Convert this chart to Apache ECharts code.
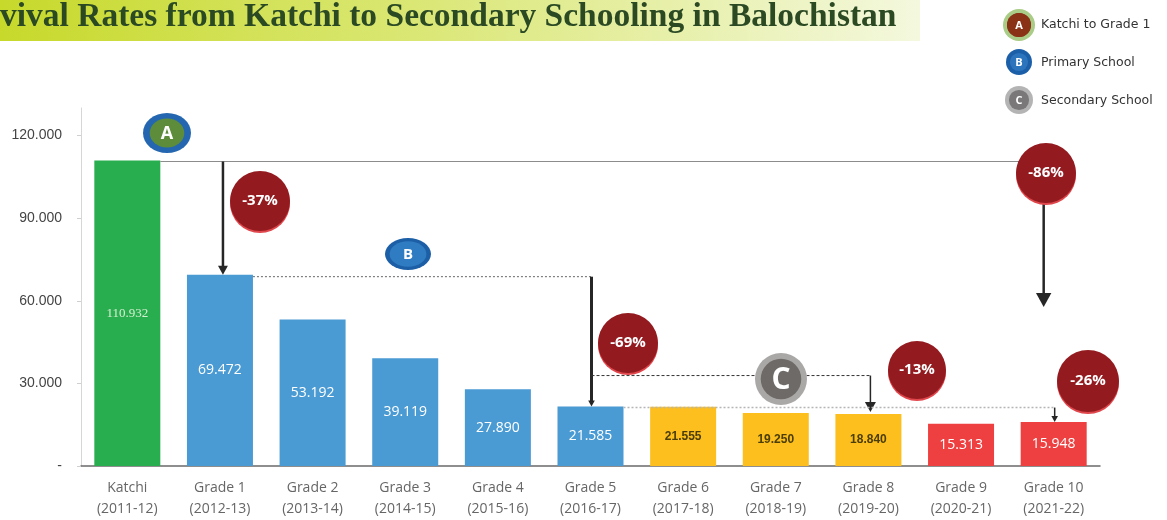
<!DOCTYPE html>
<html>
<head>
<meta charset="utf-8">
<script src="https://cdn.jsdelivr.net/npm/echarts@6/dist/echarts.min.js"></script>
<style>
  html, body { margin: 0; padding: 0; background: #fff; }
  #chart { width: 1167px; height: 520px; }
</style>
</head>
<body>
<div id="chart"></div>
<script>
// data
const grades = ['Katchi', 'Grade 1', 'Grade 2', 'Grade 3', 'Grade 4', 'Grade 5',
  'Grade 6', 'Grade 7', 'Grade 8', 'Grade 9', 'Grade 10']
const years = ['(2011-12)', '(2012-13)', '(2013-14)', '(2014-15)', '(2015-16)', '(2016-17)',
  '(2017-18)', '(2018-19)', '(2019-20)', '(2020-21)', '(2021-22)']
const enrolment = [110932, 69472, 53192, 39119, 27890, 21585, 21555, 19250, 18840, 15313, 15948]
const stage = ['katchi', 'primary', 'primary', 'primary', 'primary', 'primary',
  'middle', 'middle', 'middle', 'high', 'high']
const yTicks = [0, 30000, 60000, 90000, 120000]
const dropLabels = ['-37%', '-69%', '-13%', '-26%', '-86%']
const legendItems = ['Katchi to Grade 1', 'Primary School', 'Secondary School']

const stageColor = {
  katchi: '#29ae4f',
  primary: '#4a9ad3',
  middle: '#fcbf1e',
  high: '#ee4040'
}
const stageLabel = {
  katchi: { color: '#d6efd2', fontSize: 13, fontFamily: 'Liberation Serif' },
  primary: { color: '#fff', fontSize: 14, fontFamily: 'Open Sans' },
  middle: { color: '#4a3d05', fontSize: 12, fontWeight: 'bold', fontFamily: 'Liberation Sans' },
  high: { color: '#fff', fontSize: 14, fontFamily: 'Open Sans' }
}

const fmt = v => v === 0 ? '-' : String(v).replace(/\B(?=(\d{3})+(?!\d))/g, '.')

const chart = echarts.init(document.getElementById('chart'))

chart.setOption({
  animation: false,
  backgroundColor: '#fff',
  grid: { left: 81, right: 67, top: 108, bottom: 52 },
  xAxis: {
    type: 'category',
    data: grades.map((g, i) => g + '\n' + years[i]),
    axisLine: { lineStyle: { color: '#6a6a6a', width: 1.5 } },
    axisTick: { length: 5, lineStyle: { color: '#6a6a6a' } },
    axisLabel: { color: '#666', fontSize: 14, lineHeight: 21, margin: 12, fontFamily: 'Open Sans' }
  },
  yAxis: {
    type: 'value',
    min: 0,
    max: 130000,
    interval: 30000,
    splitLine: { show: false },
    axisLine: { show: true, lineStyle: { color: '#d6d6d6' } },
    axisTick: { show: true, length: 4, lineStyle: { color: '#d0d0d0' } },
    axisLabel: {
      color: '#444',
      fontSize: 14,
      margin: 19,
      showMaxLabel: false,
      formatter: v => yTicks.includes(v) ? fmt(v) : ''
    }
  },
  series: [{
    type: 'bar',
    barWidth: 66,
    data: enrolment.map((v, i) => ({
      value: v,
      itemStyle: { color: stageColor[stage[i]] },
      label: stageLabel[stage[i]]
    })),
    label: {
      show: true,
      position: 'inside',
      formatter: p => fmt(p.value)
    }
  }]
})

// annotation lines hang off the bar tops
const px = (i, v) => chart.convertToPixel({ gridIndex: 0 }, [i, v])
const half = 33
const k0 = px(0, enrolment[0])
const g1 = px(1, enrolment[1])
const g5 = px(5, enrolment[5])
const g8 = px(8, enrolment[8])
const g10 = px(10, enrolment[10])

function hline(x1, x2, y, color, dash, w) {
  return {
    type: 'line', z: 50,
    shape: { x1: x1, y1: y, x2: x2, y2: y },
    style: { stroke: color, lineWidth: w || 1, lineDash: dash || null }
  }
}
function arrow(x, y1, y2, w, head) {
  return [
    { type: 'line', z: 50, shape: { x1: x, y1: y1, x2: x, y2: y2 - head + 1 }, style: { stroke: '#262626', lineWidth: w } },
    { type: 'polygon', z: 50, shape: { points: [[x - head * 0.55, y2 - head], [x + head * 0.55, y2 - head], [x, y2]] }, style: { fill: '#262626' } }
  ]
}
function bubble(cx, cy, r, text) {
  return [
    { type: 'circle', z: 60, shape: { cx: cx, cy: cy + 2, r: r }, style: { fill: '#e0474c' } },
    { type: 'circle', z: 61, shape: { cx: cx, cy: cy, r: r }, style: { fill: '#931b20' } },
    { type: 'text', z: 62, style: { text: text, x: cx, y: cy, align: 'center', verticalAlign: 'middle', fill: '#fff', font: 'bold 15px "Open Sans"' } }
  ]
}
function badge(cx, cy, rx, ry, outer, inner, k, letter, size) {
  return [
    { type: 'circle', z: 60, x: cx, y: cy, scaleY: ry / rx, shape: { cx: 0, cy: 0, r: rx }, style: { fill: outer } },
    { type: 'circle', z: 61, x: cx, y: cy, scaleY: ry / rx, shape: { cx: 0, cy: 0, r: rx * k }, style: { fill: inner } },
    { type: 'text', z: 62, style: { text: letter, x: cx, y: cy + 1, align: 'center', verticalAlign: 'middle', fill: '#fff', font: 'bold ' + size + 'px "Open Sans"' } }
  ]
}

const yC = g5[1] - 31
const graphics = [
  // title band
  {
    type: 'rect', z: 1, shape: { x: 0, y: 0, width: 920, height: 41 },
    style: {
      fill: new echarts.graphic.LinearGradient(0, 0, 1, 0, [
        { offset: 0, color: '#c7d92b' },
        { offset: 0.45, color: '#dae774' },
        { offset: 1, color: '#f4f8de' }
      ])
    }
  },
  {
    type: 'text', z: 2,
    style: { text: 'vival Rates from Katchi to Secondary Schooling in Balochistan', x: 0, y: 17, verticalAlign: 'middle', fill: '#2b4a24', font: 'bold 33.5px "Liberation Serif"' }
  },
  // Katchi -> Grade 10 line and A drop
  hline(k0[0] + half, g10[0] - 10, k0[1] + 1, '#8c8c8c'),
  ...arrow(g1[0] + 3, k0[1] + 1, g1[1], 2.5, 9),
  // primary
  hline(g1[0] + half, g5[0] + 1, g1[1] + 2, '#666', [2, 2]),
  ...arrow(g5[0] + 1, g1[1] + 2, g5[1], 3, 6),
  // secondary
  hline(g5[0] + 1, g8[0] + 2, yC, '#333', [3, 2]),
  ...arrow(g8[0] + 2, yC, g8[1] - 2, 1.5, 10),
  hline(g5[0] + half, g10[0] + 1, g5[1] + 1, '#b5b5b5', [2, 2], 1.5),
  ...arrow(g10[0] + 1, g5[1] + 1, g10[1], 1.5, 6),
  // overall drop
  ...arrow(g10[0] - 10, 200, 307, 2.5, 14),
  ...bubble(260, 201, 30, dropLabels[0]),
  ...bubble(628, 343, 30, dropLabels[1]),
  ...bubble(917, 370, 29, dropLabels[2]),
  ...bubble(1088, 381, 31, dropLabels[3]),
  ...bubble(1046, 173, 30, dropLabels[4]),
  ...badge(167, 133, 24, 20, '#2467b0', '#5d8c3a', 0.72, 'A', 18),
  ...badge(408, 254, 23, 16, '#1d5fa6', '#2f7cc2', 0.8, 'B', 15),
  ...badge(781, 379, 26, 26, '#aaa8a6', '#6e6a68', 0.78, 'C', 30),
  // legend
  { type: 'circle', z: 60, shape: { cx: 1019, cy: 25, r: 16 }, style: { fill: '#a9cc86' } },
  ...badge(1019, 25, 12, 12, '#8a3216', '#8a3216', 1, 'A', 11),
  ...badge(1019, 62, 13, 13, '#1a5fa8', '#2c74bc', 0.7, 'B', 11),
  ...badge(1019, 100, 14, 14, '#b4b4b4', '#7a7878', 0.72, 'C', 11),
  ...legendItems.map((t, i) => ({
    type: 'text', z: 62,
    style: { text: t, x: 1041, y: 25 + i * 38, verticalAlign: 'middle', fill: '#333', font: '12.5px "DejaVu Sans"' }
  }))
]

chart.setOption({ graphic: graphics })
</script>
</body>
</html>
